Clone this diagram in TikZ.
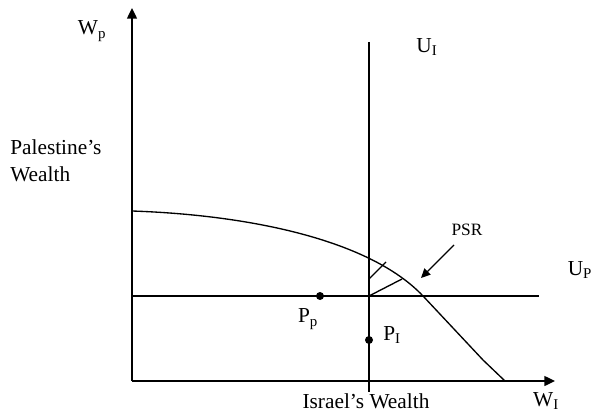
\documentclass[tikz,border=0pt]{standalone}
\usepackage{fontspec}
\setmainfont{Liberation Serif}
\usetikzlibrary{arrows.meta,positioning}

\begin{document}
\begin{tikzpicture}[x=0.75pt, y=-0.75pt,
    axis/.style={line width=1pt, -{Triangle[length=8pt,width=7.5pt]}},
    curve/.style={line width=1pt},
    lbl/.style={font=\fontsize{16}{20}\selectfont, inner sep=0pt},
    small/.style={font=\fontsize{13}{15}\selectfont, inner sep=0pt},
    dot/.style={circle, fill=black, inner sep=0pt, minimum size=6pt}
  ]
    \useasboundingbox (0,0) rectangle (598,416);

    % Axes
    \coordinate (origin) at (132,381);
    \coordinate (ytip) at (132,8);
    \coordinate (xtip) at (555,381);
    \draw[axis] (origin) -- (ytip);
    \draw[axis] (origin) -- (xtip);

    % Utility lines
    \coordinate (uitop) at (369,42);
    \coordinate (uibot) at (369,392);
    \coordinate (upleft) at (132,296);
    \coordinate (upright) at (539,296);
    \draw[curve] (uitop) -- (uibot);
    \draw[curve] (upleft) -- (upright);

    % Frontier
    \coordinate (fstart) at (132,211);
    \coordinate (fcross) at (423,296);
    \coordinate (fknee) at (483,360);
    \coordinate (fend) at (505,381);
    \draw[curve] (fstart) .. controls (250,215) and (370,240) .. (fcross)
      -- (fknee) -- (fend);

    % PSR wedge
    \coordinate (corner) at (369,296);
    \coordinate (wa) at (369,279);
    \coordinate (wb) at (386,262);
    \coordinate (wc) at (402,279);
    \draw[curve] (wa) -- (wb);
    \draw[curve] (corner) -- (wc);

    % PSR label and arrow
    \node[small] (psr) at (467,230) {PSR};
    \coordinate (psrtail) at (454,245);
    \coordinate (psrtip) at (421,278);
    \draw[line width=1pt, -{Triangle[length=7pt,width=6.5pt]}] (psrtail) -- (psrtip);

    % Points
    \node[dot] (pp) at (320,296) {};
    \node[dot] (pi) at (369,340) {};
    \node[lbl] (pplbl) at (308,319) {P\textsubscript{p}};
    \node[lbl] (pilbl) at (392,335) {P\textsubscript{I}};

    % Labels
    \node[lbl] (wp) at (92,31) {W\textsubscript{p}};
    \node[lbl, align=left, anchor=west] (pw) at (10,161) {Palestine’s\\Wealth};
    \node[lbl] (ui) at (427,47) {U\textsubscript{I}};
    \node[lbl] (up) at (580,270) {U\textsubscript{P}};
    \node[lbl] (iw) at (366,401) {Israel’s Wealth};
    \node[lbl] (wi) at (546,401) {W\textsubscript{I}};
\end{tikzpicture}
\end{document}
